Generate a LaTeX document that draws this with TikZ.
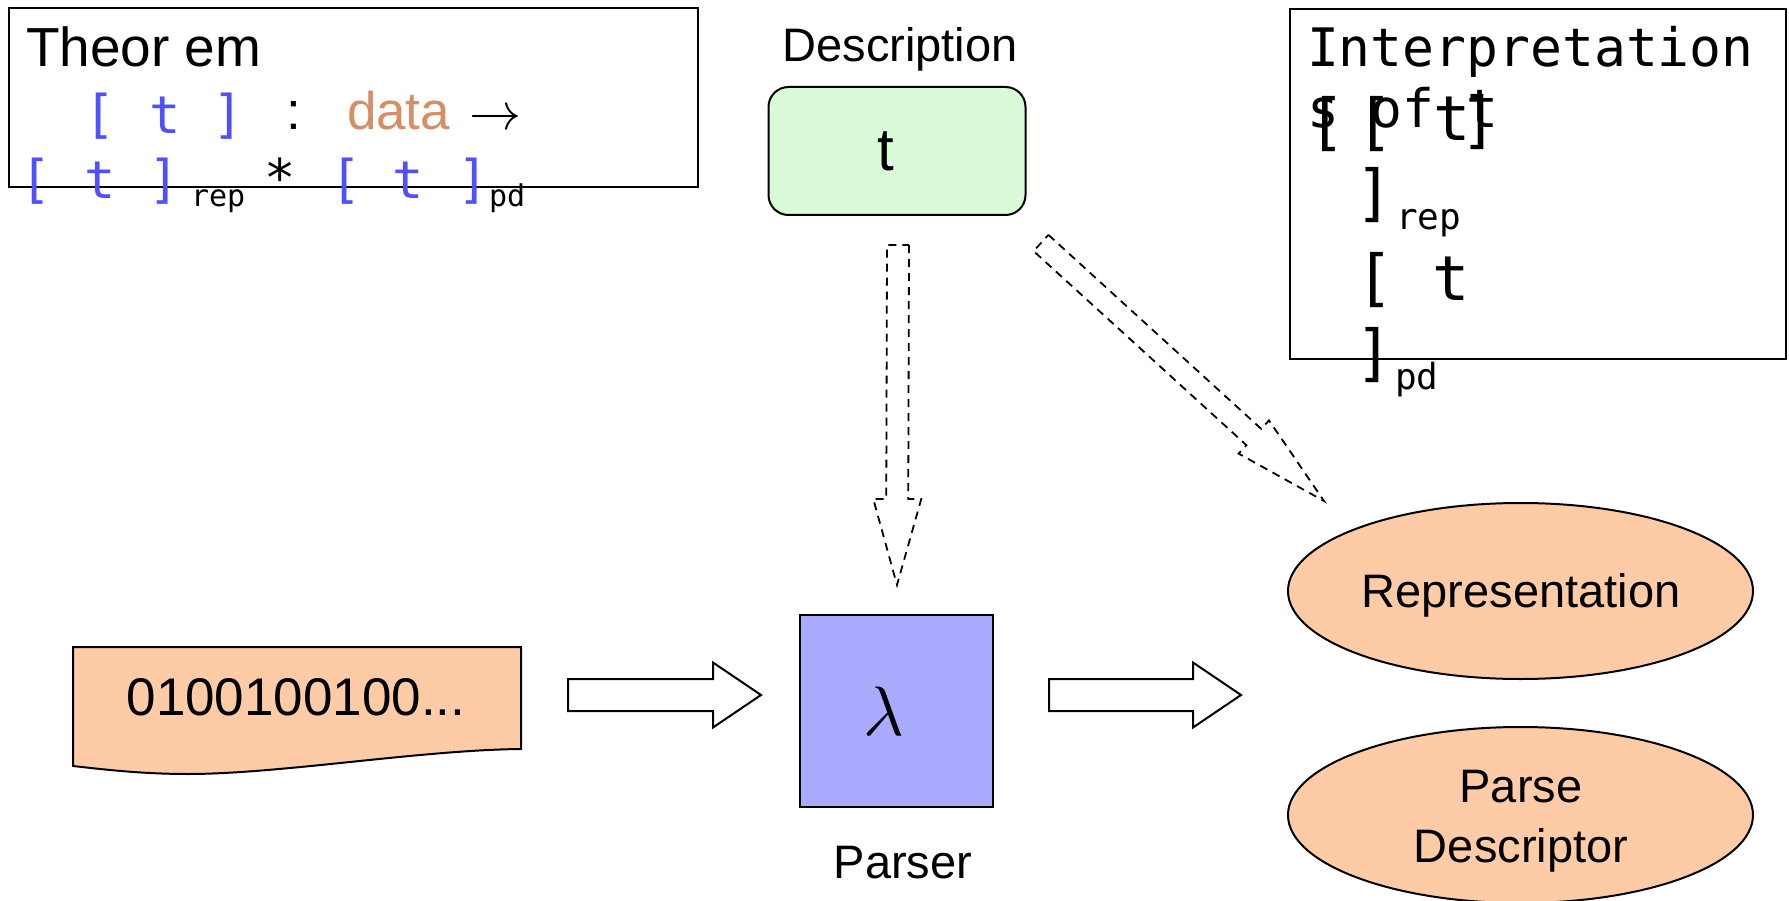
\documentclass[tikz,border=0pt]{standalone}
\usepackage{graphicx}
\usepackage{fontspec}
\setmainfont{Liberation Sans}
\newfontfamily\monof{DejaVu Sans Mono}
\usetikzlibrary{calc,shapes.geometric}
\definecolor{tblue}{RGB}{80,80,255}
\definecolor{torange}{RGB}{212,144,100}
\definecolor{dgreen}{RGB}{217,251,215}
\definecolor{pblue}{RGB}{170,170,255}
\definecolor{salmon}{RGB}{254,203,167}
\newcommand\fsz[1]{\fontsize{#1}{#1}\selectfont}
% style, from, to, shaft half width, head half width, head length
\newcommand\blockarr[6]{%
  \coordinate (hb) at ($(#3)!#6!(#2)$);
  \draw[#1] ($(#2)!#4!90:(#3)$) -- ($(hb)!#4!90:(#3)$) -- ($(hb)!#5!90:(#3)$)
    -- (#3) -- ($(hb)!#5!-90:(#3)$) -- ($(hb)!#4!-90:(#3)$) -- ($(#2)!#4!-90:(#3)$) -- cycle;
}
\tikzset{
  txt/.style={inner sep=0pt, outer sep=0pt},
  frame/.style={draw, line width=2pt},
  blk/.style={draw, line width=2pt, fill=white, line join=miter},
  dashblk/.style={draw, line width=1.8pt, dash pattern=on 8pt off 6pt},
  bl/.style={txt, text=tblue, font=\monof\fsz{52}},
  bigm/.style={txt, font=\monof\fsz{62}},
  lbl/.style={txt, anchor=base, font=\fsz{47}},
  oval/.style={ellipse, draw, line width=2pt, fill=salmon, minimum width=465pt, minimum height=176pt, inner sep=0pt},
}
\begin{document}
\begin{tikzpicture}[x=1pt,y=-1pt]
\useasboundingbox (0,0) rectangle (1789,901);

% Theorem box
\node[frame, minimum width=689pt, minimum height=179pt, anchor=north west] (thm) at (8,7) {};
\node[txt, anchor=base west, font=\fsz{55}] (thmtitle) at (26,67) {Theor em};
\node[bl] (l2a) at (100,116) {[};
\node[bl] (l2b) at (165,115) {t};
\node[bl] (l2c) at (228,116) {]};
\node[txt, font=\fsz{53}] (colon) at (294,116) {:};
\node[txt, anchor=base west, text=torange, font=\fsz{53}] (data) at (347,130) {data};
\node[txt, anchor=base west] (toarr) at (469,130) {\scalebox{5.2}{$\rightarrow$}};
\node[bl] (l3a) at (36,181) {[};
\node[bl] (l3b) at (100,180) {t};
\node[bl] (l3c) at (164,181) {]};
\node[txt, anchor=base west, font=\monof\fsz{30}] (rep1) at (191,207) {rep};
\node[txt, anchor=base, font=\monof\fsz{52}] (star) at (280,197) {*};
\node[bl] (l3d) at (346,181) {[};
\node[bl] (l3e) at (408,180) {t};
\node[bl] (l3f) at (473,181) {]};
\node[txt, anchor=base west, font=\monof\fsz{30}] (pd1) at (489,207) {pd};

% Interpretation box
\node[frame, minimum width=496pt, minimum height=350pt, anchor=north west] (interp) at (1289,8) {};
\node[txt, anchor=base west, font=\monof\fsz{53}] (ititle) at (1307,67) {Interpretation};
\node[txt, anchor=base west, font=\monof\fsz{53}] (isoft) at (1307,128) {s of t};
\node[bigm] (ia) at (1327,124) {[};
\node[bigm] (ib) at (1375,124) {[};
\node[bigm] (ic) at (1452,119) {t};
\node[bigm] (id) at (1479,122) {]};
\node[bigm] (ie) at (1374,195) {]};
\node[txt, anchor=base west, font=\monof\fsz{36}] (rep2) at (1396,230) {rep};
\node[bigm] (ig) at (1375,280) {[};
\node[bigm] (ih) at (1451,279) {t};
\node[bigm] (ii) at (1374,355) {]};
\node[txt, anchor=base west, font=\monof\fsz{36}] (pd2) at (1395,389) {pd};

% Description
\node[lbl] (desclbl) at (900,62) {Description};
\node[draw, line width=2pt, fill=dgreen, rounded corners=20pt, minimum width=257pt, minimum height=128pt, font=\fsz{60}] (desc) at (897,151) {t\kern22pt};

% Parser
\node[draw, line width=2pt, fill=pblue, minimum width=193pt, minimum height=192pt] (parser) at (896.5,711) {\scalebox{7}{$\lambda$}\kern26pt};
\node[lbl] (parserlbl) at (903,878) {Parser};

% bits document
\draw[line width=2pt, fill=salmon] (73,647) -- (521,647) -- (521,749)
  .. controls (420,750) and (280,774) .. (188,774)
  .. controls (140,774) and (100,769) .. (73,766) -- cycle;
\node[txt, font=\fsz{53}] (bits) at (296,697) {0100100100...};

% outputs
\node[oval] (rep) at (1520.5,591) {};
\node[lbl] (replbl) at (1521,607) {Representation};
\node[oval] (pdesc) at (1520.5,815) {};
\node[lbl] (pdlbl1) at (1521,802) {Parse};
\node[lbl] (pdlbl2) at (1521,862) {Descriptor};

% arrows
\coordinate (la1) at (568,695);
\coordinate (la2) at (761,695);
\blockarr{blk}{la1}{la2}{16pt}{32.5pt}{48pt}
\coordinate (ra1) at (1049,695);
\coordinate (ra2) at (1241,695);
\blockarr{blk}{ra1}{ra2}{16pt}{32.5pt}{48pt}
\coordinate (va1) at (898,245);
\coordinate (va2) at (897,585);
\blockarr{dashblk}{va1}{va2}{11pt}{24pt}{86pt}
\coordinate (da1) at (1041,243);
\coordinate (da2) at (1324,501);
\blockarr{dashblk}{da1}{da2}{11pt}{22.5pt}{95pt}
\end{tikzpicture}
\end{document}
